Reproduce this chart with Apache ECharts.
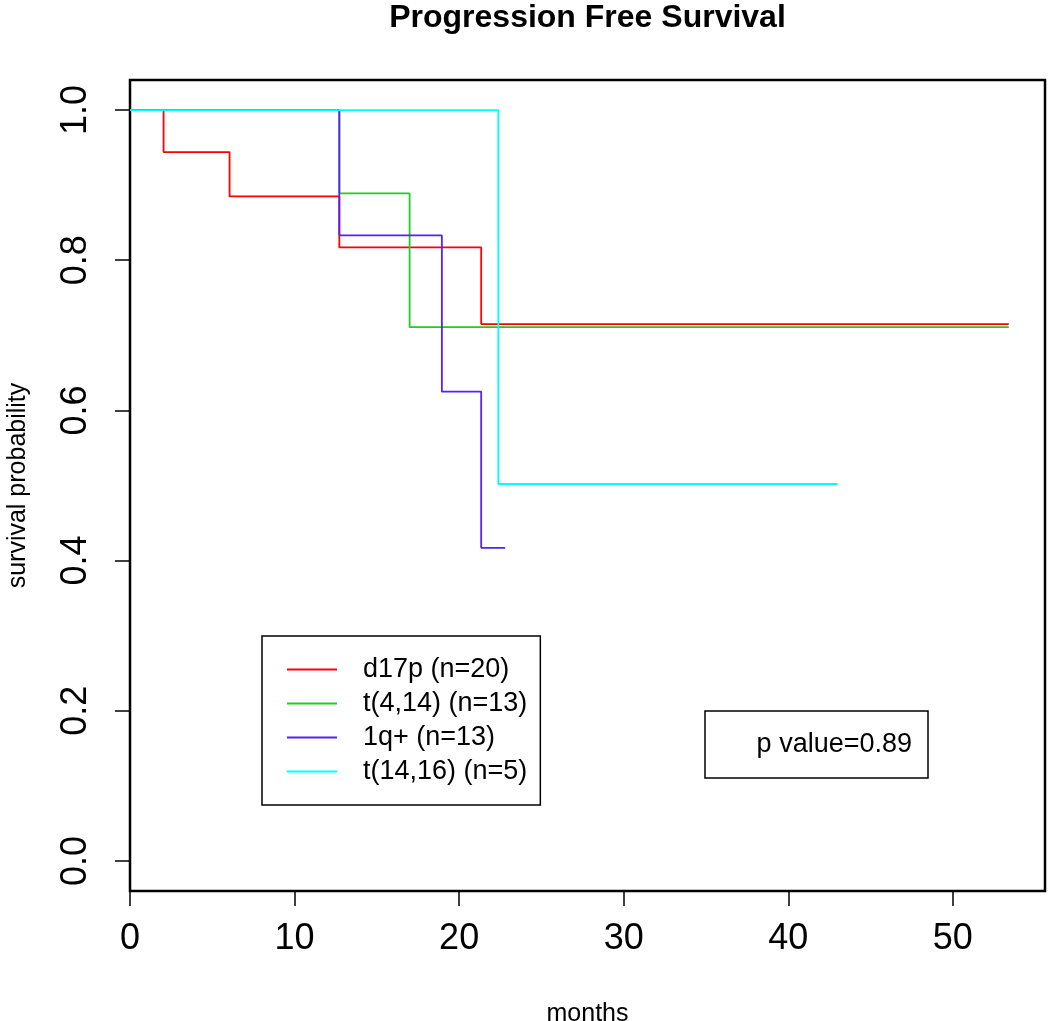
<!DOCTYPE html>
<html>
<head>
<meta charset="utf-8">
<script src="https://cdn.jsdelivr.net/npm/echarts@6/dist/echarts.min.js"></script>
<style>
html,body{margin:0;padding:0;background:#fff;}
#chart{width:1050px;height:1021px;}
</style>
</head>
<body>
<div id="chart"></div>
<script>
// ---- data ----
var seriesNames = ['d17p (n=20)', 't(4,14) (n=13)', '1q+ (n=13)', 't(14,16) (n=5)'];
var d17p   = [[0, 1.0], [2.04, 0.944], [6.05, 0.885], [12.72, 0.817], [21.34, 0.715], [53.4, 0.715]];
var t4_14  = [[0, 1.0], [12.72, 0.889], [16.99, 0.711], [53.4, 0.711]];
var q1plus = [[0, 1.0], [12.72, 0.833], [18.95, 0.625], [21.34, 0.417], [22.8, 0.417]];
var t14_16 = [[0, 1.0], [22.38, 0.502], [43.0, 0.502]];
var xTicks = [0, 10, 20, 30, 40, 50];
var yTicks = [0, 0.2, 0.4, 0.6, 0.8, 1.0];
var pValueText = 'p value=0.89';

var colors = ['#FF0000', '#22CC22', '#5522EE', '#00FFFF'];
var dataSets = [d17p, t4_14, q1plus, t14_16];
var FONT = '"Liberation Sans", Arial, sans-serif';

var chart = echarts.init(document.getElementById('chart'), null, {renderer: 'canvas'});

var series = dataSets.map(function (d, i) {
  return {
    name: seriesNames[i],
    type: 'line',
    step: 'end',
    data: d,
    symbol: 'none',
    showSymbol: false,
    lineStyle: {color: colors[i], width: 1.8},
    itemStyle: {color: colors[i]},
    z: 2 + i
  };
});

var option = {
  animation: false,
  backgroundColor: '#ffffff',
  title: {
    text: 'Progression Free Survival',
    left: 587.5,
    textAlign: 'center',
    top: 2,
    padding: 0,
    textStyle: {fontFamily: FONT, fontWeight: 'bold', fontSize: 32, color: '#000'}
  },
  grid: {
    left: 130, right: 5, top: 80, bottom: 130,
    outerBoundsMode: 'none',
    containLabel: false,
    show: true, borderColor: '#000', borderWidth: 2.5, backgroundColor: 'transparent'
  },
  xAxis: {
    type: 'value',
    min: 0, max: 55.6,
    name: 'months',
    nameLocation: 'middle',
    nameGap: 111,
    nameTextStyle: {fontFamily: FONT, fontSize: 25, color: '#000'},
    axisLine: {show: false, onZero: false},
    splitLine: {show: false},
    axisTick: {show: true, inside: false, length: 15, customValues: xTicks, lineStyle: {color: '#000', width: 1.5}},
    axisLabel: {customValues: xTicks, margin: 30, fontFamily: FONT, fontSize: 36, color: '#000'}
  },
  yAxis: {
    type: 'value',
    min: -0.04, max: 1.04,
    name: 'survival probability',
    nameLocation: 'middle',
    nameGap: 99,
    nameTextStyle: {fontFamily: FONT, fontSize: 25, color: '#000'},
    axisLine: {show: false, onZero: false},
    splitLine: {show: false},
    axisTick: {show: true, inside: false, length: 15, customValues: yTicks, lineStyle: {color: '#000', width: 1.5}},
    axisLabel: {
      customValues: yTicks, margin: 36, rotate: 90,
      fontFamily: FONT, fontSize: 36, color: '#000',
      formatter: function (v) { return v.toFixed(1); }
    }
  },
  legend: {
    orient: 'vertical',
    left: 262, top: 636,
    data: seriesNames,
    selectedMode: false,
    icon: 'path://M0,0 L50,0 L50,1.8 L0,1.8 Z',
    itemWidth: 50, itemHeight: 27, itemGap: 7,
    padding: [20, 13, 20, 25],
    borderColor: '#000', borderWidth: 1.5, backgroundColor: '#fff',
    textStyle: {fontFamily: FONT, fontSize: 27, color: '#000', padding: [0, 0, 0, 21]}
  },
  graphic: [
    {
      type: 'rect',
      shape: {x: 705, y: 711, width: 223, height: 67},
      style: {fill: '#fff', stroke: '#000', lineWidth: 1.5},
      z: 10
    },
    {
      type: 'text',
      x: 912, y: 745,
      style: {text: pValueText, font: '27px ' + FONT, fill: '#000', textAlign: 'right', textVerticalAlign: 'middle'},
      z: 11
    }
  ],
  series: series
};
chart.setOption(option);
</script>
</body>
</html>
